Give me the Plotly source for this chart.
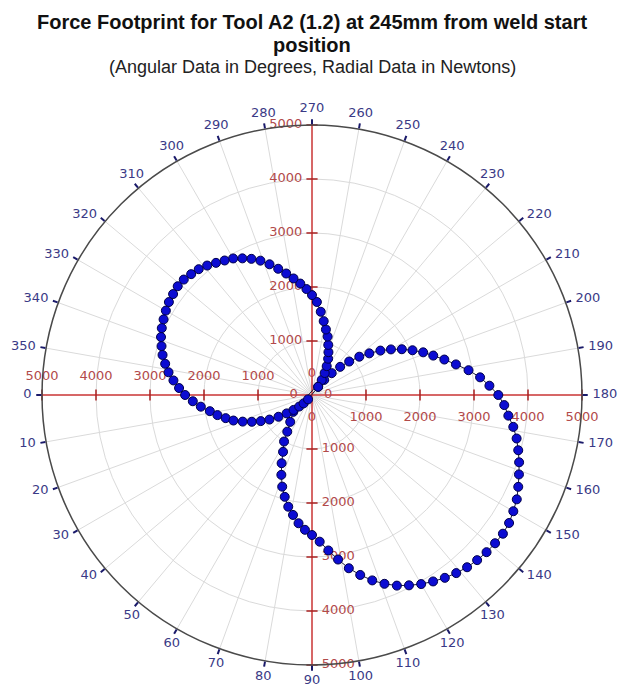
import math
import plotly.graph_objects as go

# Force footprint traced as a figure-eight: the lower-right loop first
# (angle decreasing), then the upper-left loop (angle increasing).
# Angles in degrees, force magnitudes in newtons.
lower_theta = [233, 231, 228, 225, 222, 219, 216, 213, 210, 207,
               204, 201, 198, 195, 192, 189, 186, 183, 180, 177,
               174, 171, 168, 165, 162, 159, 156, 153, 150, 147,
               144, 141, 138, 135, 132, 129, 126, 123, 120, 117,
               114, 111, 108, 105, 102, 99, 96, 93, 90, 87,
               84, 81, 78, 75, 72, 69, 66, 63, 59, 56,
               51, 42]
lower_force = [190, 360, 545, 737, 926, 1127, 1312, 1510, 1688, 1867,
               2037, 2205, 2361, 2537, 2725, 2935, 3130, 3290, 3450, 3565,
               3656, 3774, 3874, 3954, 4033, 4105, 4181, 4256, 4305, 4352,
               4370, 4362, 4350, 4325, 4292, 4244, 4185, 4117, 4043, 3956,
               3864, 3745, 3610, 3450, 3280, 3085, 2895, 2720, 2593, 2500,
               2388, 2249, 2115, 1952, 1785, 1584, 1383, 1181, 1005, 819,
               641, 465]

upper_theta = [237, 240, 243, 246, 249, 252, 255, 258, 261, 264,
               267, 270, 273, 276, 279, 282, 285, 288, 291, 294,
               297, 300, 303, 306, 309, 312, 315, 318, 321, 324,
               327, 330, 333, 336, 339, 342, 345, 348, 351, 354,
               357, 0, 3, 6, 9, 12, 15, 18, 21, 24,
               27, 30, 33, 36, 39, 42, 45, 48]
upper_force = [330, 470, 600, 735, 850, 975, 1120, 1240, 1385, 1550,
               1725, 1850, 1965, 2075, 2185, 2300, 2420, 2545, 2665, 2760,
               2840, 2920, 2970, 3025, 3085, 3135, 3165, 3195, 3200, 3180,
               3160, 3125, 3085, 3045, 2995, 2930, 2865, 2780, 2690, 2580,
               2465, 2350, 2210, 2070, 1915, 1790, 1655, 1530, 1375, 1220,
               1065, 910, 740, 580, 440, 320, 220, 110]

radial_ticks = [1000, 2000, 3000, 4000, 5000]
radial_max = 5000
angular_ticks = list(range(0, 360, 10))

title_line1 = "Force Footprint for Tool A2 (1.2) at 245mm from weld start"
title_line2 = "position"
subtitle = "(Angular Data in Degrees, Radial Data in Newtons)"

# Page geometry: the chart disc (radius R_PX) sits inside a slightly larger
# invisible polar frame (radius OUT_R) that carries the rim labels.
W, H = 621, 689
CX, CY = 312, 395
R_PX, OUT_R = 270.0, 294.0
ML, MR = CX - OUT_R, W - (CX + OUT_R)
MT, MB = CY - OUT_R, H - (CY + OUT_R)
PH = H - MT - MB
INNER = (OUT_R - R_PX) / (2 * OUT_R)

AXIS_RED = "#cf3a3a"
TICK_RED = "#a82020"
LABEL_RED = "#b24a4a"
NAVY = "#3a3a86"
GRID = "#dadada"
LABEL_FONT = dict(family="DejaVu Sans", size=13, color=LABEL_RED)
ANG_FONT = dict(family="DejaVu Sans", size=13, color=NAVY)
DIGIT_W = 0.636 * 13                 # DejaVu Sans digit advance at 13px
TEXT_H = 11.0


def paper_y(py):
    return 1 - (py - MT) / PH


def angular_label_spot(a, gap=10.5):
    """Polar (r, theta) at which the label for angle `a` is centred:
    side labels sit beside the tick, top/bottom labels above/below it."""
    t = math.radians(a)
    ux, uy = -math.cos(t), math.sin(t)      # screen direction, y down
    w = DIGIT_W * len(str(a))
    ox, oy = (R_PX + gap) * ux, (R_PX + gap) * uy
    if abs(ux) > 0.7:
        ox += math.copysign(w / 2, ux)
    else:
        oy += math.copysign(TEXT_H / 2, uy)
    r = math.hypot(ox, oy) / R_PX * radial_max
    theta = math.degrees(math.atan2(oy, -ox)) % 360
    return r, theta


fig = go.Figure()

# Red cross-hair axes through the pole
for a, b in [(0, 180), (90, 270)]:
    fig.add_trace(go.Scatterpolar(
        r=[radial_max, 0, radial_max], theta=[a, a, b], mode="lines",
        line=dict(color=AXIS_RED, width=1.5), hoverinfo="skip",
        showlegend=False))

# (angle, tick symbol, label position, label offset marker size)
arms = [
    (0, "line-ns", "top center", 17),
    (180, "line-ns", "bottom center", 24),
    (270, "line-ew", "middle left", 14),
    (90, "line-ew", "middle right", 14),
]
tick_text = [str(v) for v in radial_ticks]
for ang, sym, pos, pad in arms:
    fig.add_trace(go.Scatterpolar(
        r=radial_ticks, theta=[ang] * len(radial_ticks), mode="markers",
        marker=dict(symbol=sym, size=8, color=AXIS_RED,
                    line=dict(color=TICK_RED, width=1.5)),
        hoverinfo="skip", showlegend=False, cliponaxis=False))
    fig.add_trace(go.Scatterpolar(
        r=radial_ticks, theta=[ang] * len(radial_ticks), mode="markers+text",
        marker=dict(size=pad, opacity=0),
        text=tick_text, textposition=pos, textfont=LABEL_FONT,
        hoverinfo="skip", showlegend=False, cliponaxis=False))

# zero labels around the pole
zero_spots = [(0, 340, "middle center"), (180, 300, "middle center"),
              (270, 400, "middle center"), (90, 430, "middle center")]
fig.add_trace(go.Scatterpolar(
    r=[z[1] for z in zero_spots], theta=[z[0] for z in zero_spots],
    mode="text", text=["0"] * len(zero_spots),
    textposition=[z[2] for z in zero_spots], textfont=LABEL_FONT,
    hoverinfo="skip", showlegend=False))

# Footprint curve, closed back onto its first sample
path_theta = lower_theta + upper_theta + lower_theta[:1]
path_force = lower_force + upper_force + lower_force[:1]
fig.add_trace(go.Scatterpolar(
    r=path_force, theta=path_theta, mode="lines+markers",
    line=dict(color="#1c1c3c", width=1),
    marker=dict(size=9, color="#0c0cd2", line=dict(color="#00004a", width=1)),
    showlegend=False))

# Angle labels around the rim, drawn in the outer frame
spots = [angular_label_spot(a) for a in angular_ticks]
fig.add_trace(go.Scatterpolar(
    r=[s[0] for s in spots], theta=[s[1] for s in spots], mode="text",
    text=[str(a) for a in angular_ticks], textposition="middle center",
    textfont=ANG_FONT, hoverinfo="skip", showlegend=False, subplot="polar2"))

fig.update_layout(
    width=W, height=H,
    margin=dict(l=ML, r=MR, t=MT, b=MB),
    paper_bgcolor="white",
    font=dict(family="DejaVu Sans", size=13, color=NAVY),
    polar=dict(
        bgcolor="white",
        domain=dict(x=[INNER, 1 - INNER], y=[INNER, 1 - INNER]),
        radialaxis=dict(range=[0, radial_max], tickvals=radial_ticks,
                        showticklabels=False, ticks="", showline=False,
                        gridcolor=GRID, gridwidth=1),
        angularaxis=dict(rotation=180, direction="counterclockwise",
                         tickmode="array", tickvals=angular_ticks,
                         showticklabels=False,
                         ticks="outside", ticklen=5, tickwidth=1.5,
                         tickcolor="#1a1a6a",
                         showline=True, linecolor="#4a4a4a", linewidth=1.5,
                         gridcolor=GRID, gridwidth=1),
    ),
    polar2=dict(
        bgcolor="rgba(0,0,0,0)",
        domain=dict(x=[0, 1], y=[0, 1]),
        radialaxis=dict(range=[0, radial_max * OUT_R / R_PX], visible=False),
        angularaxis=dict(rotation=180, direction="counterclockwise",
                         visible=False),
    ),
    annotations=[
        dict(text="<b>" + title_line1 + "</b>", x=0.5, y=paper_y(22),
             xref="paper", yref="paper", showarrow=False, yanchor="middle",
             font=dict(family="Liberation Sans", size=20, color="#111111")),
        dict(text="<b>" + title_line2 + "</b>", x=0.5, y=paper_y(45),
             xref="paper", yref="paper", showarrow=False, yanchor="middle",
             font=dict(family="Liberation Sans", size=20, color="#111111")),
        dict(text=subtitle, x=0.5, y=paper_y(67),
             xref="paper", yref="paper", showarrow=False, yanchor="middle",
             font=dict(family="Liberation Sans", size=18, color="#222222")),
    ],
)

fig.write_html("out.html")
